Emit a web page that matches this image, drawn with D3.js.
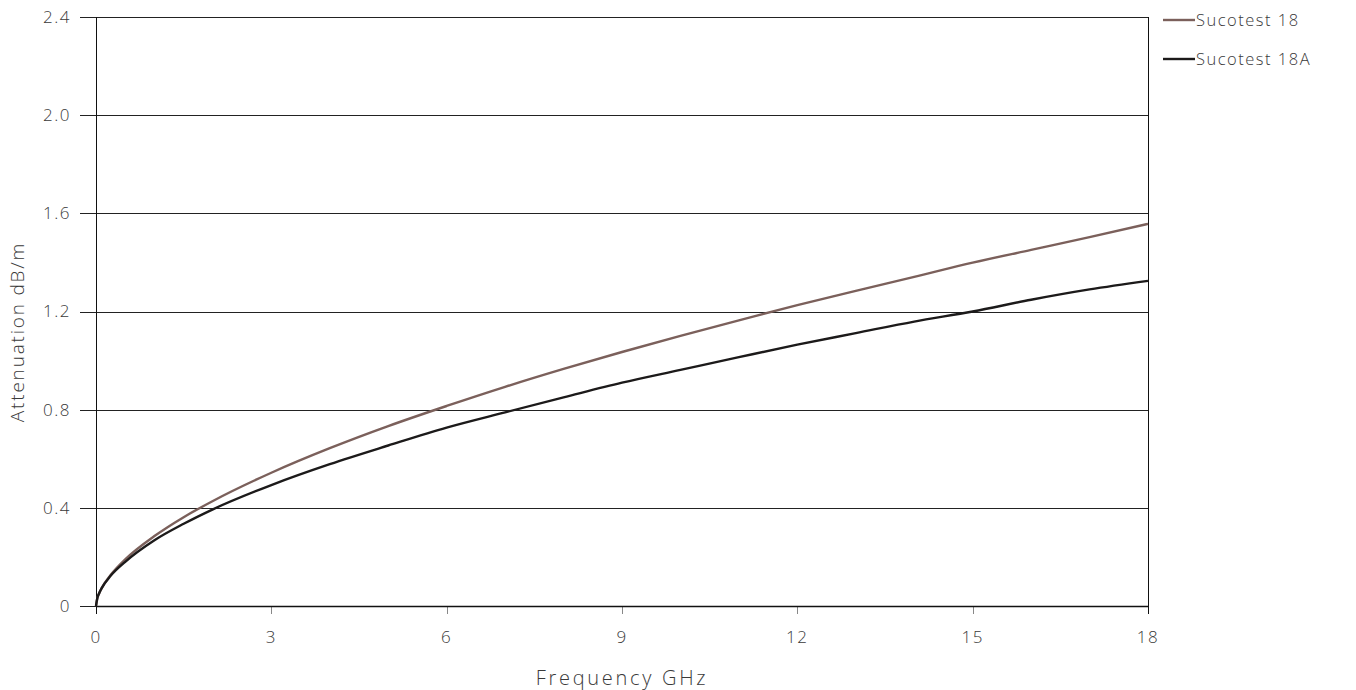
<!DOCTYPE html>
<html>
<head>
<meta charset="utf-8">
<script src="https://cdn.jsdelivr.net/npm/d3@7"></script>
<style>
  body { margin: 0; background: #fff; }
  text { font-family: "Open Sans", sans-serif; font-weight: 300; fill: #3a3a3a; letter-spacing: 1.5px; }
</style>
</head>
<body>
<svg id="chart" width="1356" height="690"></svg>
<script>
const frequencies = [0, 0.02, 0.05, 0.1, 0.25, 0.5, 1, 1.5, 2, 3, 4, 5, 6, 7, 8, 9, 10, 11, 12, 13, 14, 15, 16, 17, 18];
const sucotest18 = [0, 0.029, 0.049, 0.074, 0.126, 0.190, 0.285, 0.362, 0.428, 0.543, 0.643, 0.733, 0.815, 0.893, 0.966, 1.035, 1.101, 1.164, 1.226, 1.284, 1.341, 1.399, 1.451, 1.503, 1.557];
const sucotest18A = [0, 0.030, 0.050, 0.074, 0.123, 0.180, 0.268, 0.335, 0.394, 0.493, 0.578, 0.654, 0.727, 0.789, 0.850, 0.910, 0.962, 1.014, 1.065, 1.112, 1.159, 1.200, 1.248, 1.290, 1.325];
const seriesNames = ["Sucotest 18", "Sucotest 18A"];
const seriesColors = ["#7b605b", "#1c1a1a"];
const xTicks = [0, 3, 6, 9, 12, 15, 18];
const yTicks = [0, 0.4, 0.8, 1.2, 1.6, 2.0, 2.4];

const svg = d3.select("#chart");
const L = 96, R = 1148, T = 17, B = 606;
const x = d3.scaleLinear().domain([0, 18]).range([L, R]);
const y = d3.scaleLinear().domain([0, 2.4]).range([B, T]);

// gridlines
svg.append("g").selectAll("line").data(yTicks).join("line")
  .attr("x1", L - 16).attr("x2", R)
  .attr("y1", d => Math.round(y(d)) + 0.5).attr("y2", d => Math.round(y(d)) + 0.5)
  .attr("stroke", "#222").attr("stroke-width", 1);

// y labels
svg.append("g").selectAll("text").data(yTicks).join("text")
  .attr("x", L - 25).attr("y", d => y(d)).attr("dy", "0.35em")
  .attr("text-anchor", "end").attr("font-size", 17)
  .text(d => d === 0 ? "0" : d.toFixed(1));

// x axis ticks
svg.append("g").selectAll("line").data(xTicks).join("line")
  .attr("x1", d => Math.round(x(d)) + 0.5).attr("x2", d => Math.round(x(d)) + 0.5)
  .attr("y1", B).attr("y2", B + 8)
  .attr("stroke", d => (d === 0 || d === 18) ? "#111" : "#888").attr("stroke-width", 1);

svg.append("g").selectAll("text").data(xTicks).join("text")
  .attr("x", d => x(d)).attr("y", B + 37)
  .attr("text-anchor", "middle").attr("font-size", 17)
  .text(d => d);

// frame: left and right axes
svg.append("line").attr("x1", L + 0.5).attr("x2", L + 0.5).attr("y1", T).attr("y2", B + 8).attr("stroke", "#111");
svg.append("line").attr("x1", R + 0.5).attr("x2", R + 0.5).attr("y1", T).attr("y2", B + 8).attr("stroke", "#111");
svg.append("line").attr("x1", L).attr("x2", R).attr("y1", B + 0.5).attr("y2", B + 0.5).attr("stroke", "#111").attr("stroke-width", 1.5);

// series lines
const data = [sucotest18, sucotest18A];
const line = d3.line().x((d, i) => x(frequencies[i])).y(d => y(d)).curve(d3.curveMonotoneX);
data.forEach((s, k) => {
  svg.append("path").datum(s).attr("d", line)
    .attr("fill", "none").attr("stroke", seriesColors[k]).attr("stroke-width", 2.4);
});

// axis titles
svg.append("text").attr("x", x(9)).attr("y", 685).attr("text-anchor", "middle").attr("font-size", 20)
  .style("letter-spacing", "2.7px").text("Frequency GHz");
svg.append("text").attr("transform", "translate(24,332) rotate(-90)").attr("text-anchor", "middle").attr("font-size", 19)
  .style("letter-spacing", "1.8px").text("Attenuation dB/m");

// legend
const lg = svg.append("g");
seriesNames.forEach((n, i) => {
  const yy = 20 + i * 39;
  lg.append("line").attr("x1", 1163).attr("x2", 1195).attr("y1", yy).attr("y2", yy)
    .attr("stroke", seriesColors[i]).attr("stroke-width", 2.4);
  lg.append("text").attr("x", 1196).attr("y", yy).attr("dy", "0.35em").attr("font-size", 16.5).text(n);
});
</script>
</body>
</html>
